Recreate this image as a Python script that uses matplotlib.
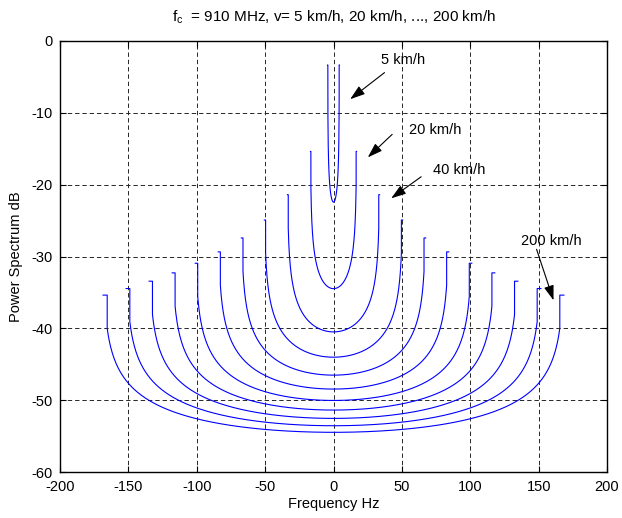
import numpy as np
import matplotlib
matplotlib.use("Agg")
import matplotlib.pyplot as plt

plt.rcParams['font.family'] = ['Liberation Sans', 'DejaVu Sans']
plt.rcParams['mathtext.fontset'] = 'custom'
plt.rcParams['mathtext.rm'] = 'Liberation Sans'
plt.rcParams['mathtext.it'] = 'Liberation Sans'
plt.rcParams['axes.unicode_minus'] = False

# parameters of the chart (from the title)
fc = 910e6                     # carrier frequency, Hz
speeds_kmh = [5, 20, 40, 60, 80, 100, 120, 140, 160, 180, 200]
c_light = 3e8

# shape of the plotted spectra
peak_above_floor_db = 19.1     # top of every curve above its floor
edge_frac = 0.982              # where the steep rise sits, as fraction of fd

# annotations: (text, text pos, arrow tail, arrow head)
labels = ['5 km/h', '20 km/h', '40 km/h', '200 km/h']
text_xy = [(34.9, -2.6), (55.1, -12.4), (73.1, -18.0), (137.0, -27.8)]
tail_xy = [(37.3, -4.4), (42.9, -13.0), (64.1, -18.9), (148.5, -29.0)]
head_xy = [(12.2, -8.1), (25.1, -16.2), (42.2, -21.9), (160.9, -36.1)]

xticks = np.arange(-200, 201, 50)
yticks = np.arange(-60, 1, 10)

fig = plt.figure(figsize=(6.22, 5.18), dpi=100)
ax = fig.add_axes([60 / 622, 1 - 472 / 518, 547 / 622, 431 / 518])

lam = c_light / fc
x = np.linspace(-edge_frac, edge_frac, 801)
for v in speeds_kmh:
    fd = (v / 3.6) / lam
    s = 20 * np.log10(1.0 / (np.pi * fd * np.sqrt(1 - x ** 2)))
    top = s.min() + peak_above_floor_db
    f = np.concatenate([[-fd, -edge_frac * fd], x * fd, [edge_frac * fd, fd]])
    y = np.concatenate([[top, top], s, [top, top]])
    ax.plot(f, y, color='#0000ff', lw=0.8)

for t, txy, a, h in zip(labels, text_xy, tail_xy, head_xy):
    ax.text(txy[0], txy[1], t, fontsize=10.5, ha='left', va='center')
    ax.annotate('', xy=h, xytext=a,
                arrowprops=dict(arrowstyle='-|>,head_length=0.6,head_width=0.2',
                                color='k', lw=0.8, mutation_scale=15,
                                shrinkA=0, shrinkB=0))

ax.set_xlim(-200, 200)
ax.set_ylim(-60, 0)
ax.set_xticks(xticks)
ax.set_yticks(yticks)
ax.grid(True, color='0.15', lw=0.7, linestyle=(0, (4.5, 3)))
ax.tick_params(direction='in', length=4, top=True, right=True, labelsize=10.5)
ax.tick_params(axis='x', pad=6)
ax.tick_params(axis='y', pad=5)
for sp in ax.spines.values():
    sp.set_linewidth(1.0)

ax.set_xlabel('Frequency Hz', fontsize=10.5, labelpad=2)
ax.set_ylabel('Power Spectrum dB', fontsize=10.5, labelpad=6)
ax.set_title(r'f$_{\mathrm{c}}$  = 910 MHz, v= 5 km/h, 20 km/h, ..., 200 km/h',
             fontsize=11, pad=14)

fig.savefig('out.png', dpi=100)
